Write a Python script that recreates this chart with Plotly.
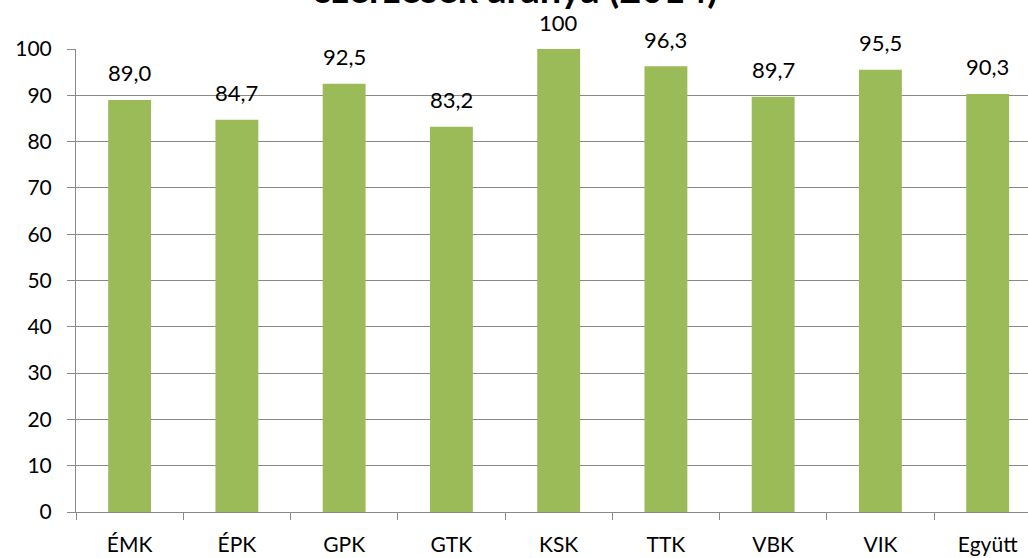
import plotly.graph_objects as go

categories = ["ÉMK", "ÉPK", "GPK", "GTK", "KSK", "TTK", "VBK", "VIK", "Együtt"]
values = [89.0, 84.7, 92.5, 83.2, 100, 96.3, 89.7, 95.5, 90.3]
y_ticks = [0, 10, 20, 30, 40, 50, 60, 70, 80, 90, 100]
title_text = "szerzések aránya (2014)"


def fmt(v):
    if v == 100:
        return str(int(v))
    return f"{v:.1f}".replace(".", ",")


FONT = "Lato, 'Open Sans', sans-serif"
GRID = "#898989"

fig = go.Figure()
fig.add_trace(go.Bar(
    x=categories, y=values,
    marker=dict(color="#9BBB59", line=dict(width=0)),
    hoverinfo="x+y",
))

annotations = []
for c, v in zip(categories, values):
    annotations.append(dict(
        x=c, y=v, xref="x", yref="y", text=fmt(v), showarrow=False,
        yanchor="middle", xanchor="center", yshift=27,
        font=dict(family=FONT, size=22, color="#000000"),
    ))

annotations.append(dict(
    x=0.4627, y=1, xref="paper", yref="paper", text=f"<b>{title_text}</b>",
    showarrow=False, xanchor="center", yanchor="bottom", yshift=36,
    font=dict(family=FONT, size=38, color="#000000"),
))

fig.update_layout(
    width=1028, height=558,
    margin=dict(l=76, r=0, t=49, b=46, pad=0),
    paper_bgcolor="white", plot_bgcolor="white",
    bargap=0.6,
    showlegend=False,
    annotations=annotations,
    font=dict(family=FONT, size=21, color="#000000"),
)
fig.update_xaxes(
    type="category",
    range=[-0.5, 8.376],
    showline=True, linecolor=GRID, linewidth=1,
    showgrid=False,
    tickson="boundaries", ticks="outside", ticklen=7, tickcolor=GRID, tickwidth=1,
    tickfont=dict(family=FONT, size=21, color="#000000"),
    ticklabelstandoff=14,
    zeroline=False,
)
fig.update_yaxes(
    range=[0, 100],
    tickvals=y_ticks,
    showline=True, linecolor=GRID, linewidth=1,
    showgrid=True, gridcolor=GRID, gridwidth=1,
    ticks="outside", ticklen=8, tickcolor=GRID, tickwidth=1,
    tickfont=dict(family=FONT, size=21, color="#000000"),
    ticklabelstandoff=11,
    zeroline=False,
)

fig.write_html(
    "out.html",
    config={"displayModeBar": False},
    post_script="document.body.style.margin='0px';document.body.style.overflow='hidden';",
)
